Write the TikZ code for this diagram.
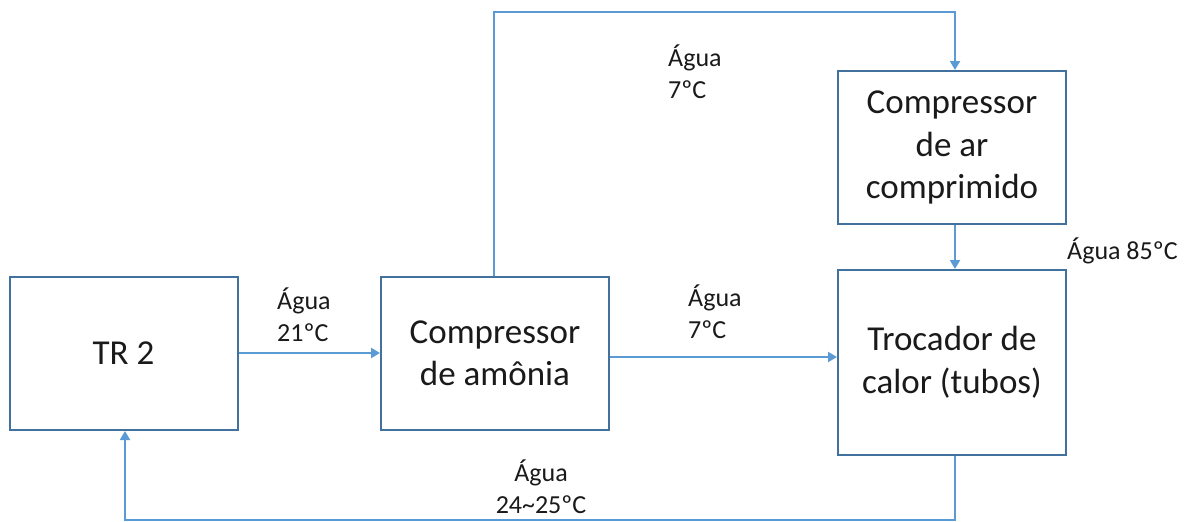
\documentclass[tikz,border=0pt]{standalone}
\usepackage{fontspec}
\setmainfont{Carlito}
\usetikzlibrary{arrows.meta}
\definecolor{boxc}{HTML}{41719C}
\definecolor{linec}{HTML}{5B9BD5}
\definecolor{txt}{HTML}{1A1A1A}
\begin{document}
\begin{tikzpicture}[x=1pt,y=-1pt,
  blk/.style={draw=boxc,line width=2pt,fill=white,minimum width=228pt,align=center,
    font=\fontsize{35}{42.5}\selectfont,text=txt,inner sep=0pt},
  flow/.style={draw=linec,line width=2pt,-{Triangle[length=9pt,width=10pt]}},
  lbl/.style={font=\fontsize{26}{32}\selectfont,text=txt,inner sep=0pt}]
\useasboundingbox (0,0) rectangle (1192,522);
\node[blk,minimum height=153pt] (tr) at (123.5,353.5) {TR 2};
\node[blk,minimum height=153pt] (ca) at (495,353.5) {Compressor\\de amônia};
\node[blk,minimum height=153pt] (car) at (952,147.5) {Compressor\\de ar\\comprimido};
\node[blk,minimum height=185pt] (tc) at (952,362.5) {Trocador de\\calor (tubos)};
\coordinate (t1) at (494,12);
\coordinate (t2) at (955,12);
\coordinate (b1) at (955,520);
\coordinate (b2) at (125,520);
\draw[flow] (tr.east |- 0,353) -- (ca.west |- 0,353);
\draw[flow] (ca.east |- 0,357) -- (tc.west |- 0,357);
\draw[flow] (ca.north -| t1) -- (t1) -- (t2) -- (car.north -| t2);
\draw[flow] (car.south -| t2) -- (tc.north -| t2);
\draw[flow] (tc.south -| b1) -- (b1) -- (b2) -- (tr.south -| b2);
\node[lbl,anchor=north west,align=left] (l1) at (277,288) {Água\\21ºC};
\node[lbl,anchor=north west,align=left] (l2) at (688,285) {Água\\7ºC};
\node[lbl,anchor=north west,align=left] (l3) at (668,45) {Água\\7ºC};
\node[lbl,anchor=north west] (l4) at (1067,238) {Água 85ºC};
\node[lbl,anchor=north,align=center] (l5) at (541,460) {Água\\24\textasciitilde25ºC};
\end{tikzpicture}
\end{document}
